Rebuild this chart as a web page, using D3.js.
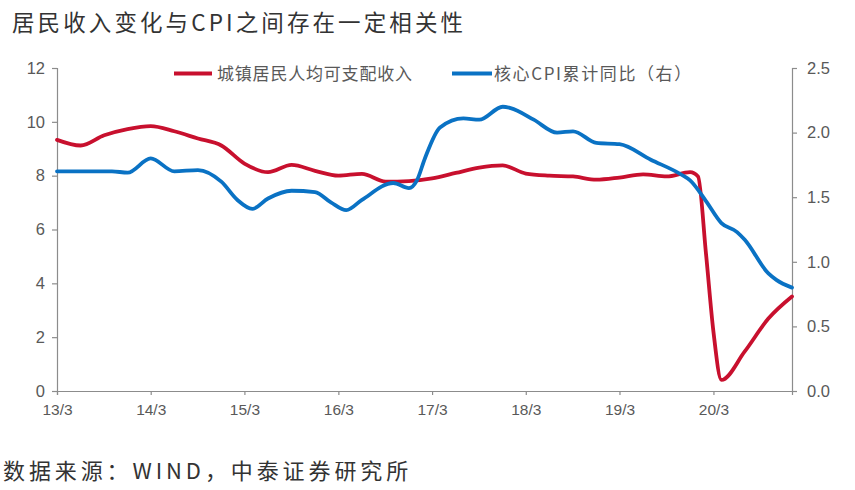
<!DOCTYPE html>
<html>
<head>
<meta charset="utf-8">
<script src="https://cdn.jsdelivr.net/npm/d3@7/dist/d3.min.js"></script>
<style>
  html, body { margin: 0; padding: 0; background: #fff; }
  svg { display: block; }
</style>
</head>
<body>
<svg id="chart" width="855" height="490"></svg>
<script>
// ---- Data ----
const titleText = "居民收入变化与CPI之间存在一定相关性";
const sourceText = "数据来源：WIND，中泰证券研究所";
const seriesNames = ["城镇居民人均可支配收入", "核心CPI累计同比（右）"];

// 城镇居民人均可支配收入 (left axis, %)
const incomeDates = ["2013-03","2013-06","2013-09","2013-12","2014-03","2014-06","2014-09","2014-12",
  "2015-03","2015-06","2015-09","2015-12","2016-03","2016-06","2016-09","2016-12",
  "2017-03","2017-06","2017-09","2017-12","2018-03","2018-06","2018-09","2018-12",
  "2019-03","2019-06","2019-09","2019-12","2020-01","2020-02","2020-03","2020-04",
  "2020-07","2020-10","2021-01"];
const incomeValues = [9.33,9.12,9.50,9.73,9.84,9.65,9.38,9.12,
  8.45,8.13,8.40,8.18,8.00,8.07,7.78,7.80,
  7.90,8.10,8.30,8.38,8.08,8.00,7.97,7.85,
  7.93,8.05,7.97,8.13,7.97,5.10,2.20,0.41,
  1.47,2.69,3.51];

// 核心CPI累计同比 (right axis, %)
const cpiDates = ["2013-03","2013-07","2013-10","2013-12","2014-03","2014-06","2014-09","2014-12",
  "2015-02","2015-04","2015-06","2015-09","2015-12","2016-02","2016-04","2016-06",
  "2016-10","2016-12","2017-01","2017-02","2017-04","2017-07","2017-09","2017-12",
  "2018-01","2018-04","2018-07","2018-09","2018-12","2019-03","2019-07","2019-11",
  "2019-12","2020-02","2020-04","2020-06","2020-07","2020-10","2020-11","2021-01"];
const cpiValues = [1.70,1.70,1.70,1.69,1.80,1.70,1.71,1.62,
  1.48,1.41,1.49,1.55,1.54,1.46,1.40,1.48,
  1.61,1.57,1.63,1.80,2.04,2.11,2.10,2.20,
  2.19,2.10,2.00,2.01,1.92,1.91,1.79,1.67,
  1.63,1.47,1.30,1.23,1.17,0.91,0.86,0.80];

const leftTicks = [0, 2, 4, 6, 8, 10, 12];
const rightTicks = [0.0, 0.5, 1.0, 1.5, 2.0, 2.5];
const xTickDates = ["2013-03","2014-03","2015-03","2016-03","2017-03","2018-03","2019-03","2020-03"];
const xDomain = ["2013-03", "2021-01"];

// ---- Drawing ----
const parse = d3.timeParse("%Y-%m");
const svg = d3.select("#chart");
const margin = { left: 57, right: 855 - 792, top: 68, bottom: 490 - 391 };
const W = 855, H = 490;

const x = d3.scaleTime().domain(xDomain.map(parse)).range([margin.left, W - margin.right]);
const yL = d3.scaleLinear().domain([0, 12]).range([H - margin.bottom, margin.top]);
const yR = d3.scaleLinear().domain([0, 2.5]).range([H - margin.bottom, margin.top]);

const axisColor = "#8c8c8c";
const labelColor = "#595959";
const numFont = "'Liberation Sans', Arial, sans-serif";
const cjkFont = "'Noto Sans CJK SC', 'Noto Sans', sans-serif";

// Title
svg.append("text").attr("x", 12).attr("y", 31)
  .attr("font-family", cjkFont).attr("font-size", 22.5).attr("letter-spacing", 3.1)
  .attr("fill", "#333").text(titleText);

// Source
svg.append("text").attr("x", 3).attr("y", 479)
  .attr("font-family", cjkFont).attr("font-size", 22).attr("letter-spacing", 3.9)
  .attr("fill", "#333").text(sourceText);

function styleAxis(g) {
  g.selectAll("path.domain").attr("stroke", axisColor).attr("stroke-width", 1.2);
  g.selectAll(".tick line").attr("stroke", axisColor).attr("stroke-width", 1.2);
  g.selectAll(".tick text").attr("fill", labelColor).attr("font-family", numFont).attr("font-size", 16.5);
}

// Left axis
const gL = svg.append("g").attr("transform", `translate(${margin.left},0)`)
  .call(d3.axisLeft(yL).tickValues(leftTicks).tickFormat(d3.format("d")).tickSizeOuter(0).tickSize(5).tickPadding(7));
styleAxis(gL);

// Right axis
const gR = svg.append("g").attr("transform", `translate(${W - margin.right},0)`)
  .call(d3.axisRight(yR).tickValues(rightTicks).tickFormat(d3.format(".1f")).tickSizeOuter(0).tickSize(5).tickPadding(10));
styleAxis(gR);

// Bottom axis
const gX = svg.append("g").attr("transform", `translate(0,${H - margin.bottom})`)
  .call(d3.axisBottom(x).tickValues(xTickDates.map(parse)).tickFormat(d3.timeFormat("%y/%-m")).tickSizeOuter(0).tickSize(4).tickPadding(9));
styleAxis(gX);
gX.selectAll(".tick text").attr("font-size", 15.5);

// Lines
const red = "#c8102e", blue = "#0a72c4";
const incomeData = incomeDates.map((d, i) => ({ date: parse(d), v: incomeValues[i] }));
const cpiData = cpiDates.map((d, i) => ({ date: parse(d), v: cpiValues[i] }));

svg.append("path").datum(incomeData)
  .attr("fill", "none").attr("stroke", red).attr("stroke-width", 3.8)
  .attr("stroke-linejoin", "round").attr("stroke-linecap", "round")
  .attr("d", d3.line().x(d => x(d.date)).y(d => yL(d.v)).curve(d3.curveMonotoneX));

svg.append("path").datum(cpiData)
  .attr("fill", "none").attr("stroke", blue).attr("stroke-width", 3.8)
  .attr("stroke-linejoin", "round").attr("stroke-linecap", "round")
  .attr("d", d3.line().x(d => x(d.date)).y(d => yR(d.v)).curve(d3.curveMonotoneX));

// Legend
const legend = [
  { name: seriesNames[0], color: red, x1: 174, x2: 212, tx: 217, ls: 0.8 },
  { name: seriesNames[1], color: blue, x1: 452, x2: 492, tx: 494, ls: 1.6 }
];
legend.forEach(l => {
  svg.append("line").attr("x1", l.x1).attr("x2", l.x2).attr("y1", 73.5).attr("y2", 73.5)
    .attr("stroke", l.color).attr("stroke-width", 4);
  svg.append("text").attr("x", l.tx).attr("y", 79.5)
    .attr("font-family", cjkFont).attr("font-size", 17).attr("letter-spacing", l.ls)
    .attr("fill", labelColor).text(l.name);
});
</script>
</body>
</html>
